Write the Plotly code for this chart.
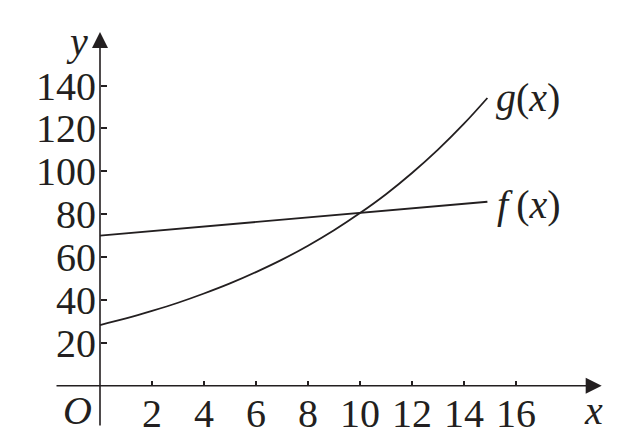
import plotly.graph_objects as go

# ---- data ----
x_g = [0, 1, 2, 3, 4, 5, 6, 7, 8, 9, 10, 11, 12, 13, 14, 14.9]
g_vals = [28.3, 31.4, 34.9, 38.7, 43.0, 47.7, 53.0, 58.8, 65.3, 72.5, 80.5, 89.3, 99.2, 110.1, 122.2, 134.2]
x_f = [0, 14.9]
f_vals = [70, 85.8]
x_ticks = [2, 4, 6, 8, 10, 12, 14, 16]
y_ticks = [20, 40, 60, 80, 100, 120, 140]

W, H = 621, 442
X0PIX, Y0PIX = 100, 385.7      # pixel position of origin
XS, YS = 26.0, 2.144           # pixels per unit


def dx(p):
    return (p - X0PIX) / XS


def dy(p):
    return (Y0PIX - p) / YS


INK = "#231f20"
FONT = "Liberation Serif"
FS = 40

fig = go.Figure()
fig.add_trace(go.Scatter(x=x_g, y=g_vals, mode="lines", line=dict(color=INK, width=1.8),
                         line_shape="spline", hoverinfo="skip"))
fig.add_trace(go.Scatter(x=x_f, y=f_vals, mode="lines", line=dict(color=INK, width=1.8),
                         hoverinfo="skip"))

# axes with arrows
fig.add_annotation(x=dx(601.7), y=0, ax=dx(55), ay=0, xref="x", yref="y", axref="x", ayref="y",
                   showarrow=True, arrowhead=2, arrowsize=2.0, arrowwidth=1.6, arrowcolor=INK,
                   standoff=0, text="")
fig.add_annotation(x=0, y=dy(32), ax=0, ay=dy(427), xref="x", yref="y", axref="x", ayref="y",
                   showarrow=True, arrowhead=2, arrowsize=2.0, arrowwidth=1.6, arrowcolor=INK,
                   standoff=0, text="")

lab = dict(family=FONT, size=FS, color=INK)
fig.add_annotation(x=dx(77), y=dy(410), text="<i>O</i>", showarrow=False, font=lab,
                   xanchor="center", yanchor="middle")
fig.add_annotation(x=dx(593), y=dy(410), text="<i>x</i>", showarrow=False, font=lab,
                   xanchor="center", yanchor="middle")
fig.add_annotation(x=dx(77), y=dy(41), text="<i>y</i>", showarrow=False, font=lab,
                   xanchor="center", yanchor="middle")
fig.add_annotation(x=dx(494), y=dy(97), text="<i>g</i>(<i>x</i>)", showarrow=False, font=lab,
                   xanchor="left", yanchor="middle")
fig.add_annotation(x=dx(495), y=dy(204), text="<i>f</i>\u2009(<i>x</i>)", showarrow=False, font=lab,
                   xanchor="left", yanchor="middle")

fig.update_layout(
    width=W, height=H,
    margin=dict(l=0, r=0, t=0, b=0),
    paper_bgcolor="white", plot_bgcolor="white",
    showlegend=False,
    xaxis=dict(range=[dx(0), dx(W)], domain=[0, 1], anchor="free", position=(H - Y0PIX) / H,
               tickvals=x_ticks, ticktext=[str(v) for v in x_ticks],
               ticks="inside", ticklen=5, tickwidth=1.5, tickcolor=INK,
               showline=False, showgrid=False, zeroline=False,
               tickfont=dict(family=FONT, size=FS, color=INK), automargin=False),
    yaxis=dict(range=[dy(H), dy(0)], domain=[0, 1], anchor="free", position=X0PIX / W,
               tickvals=y_ticks, ticktext=[str(v) for v in y_ticks],
               ticks="inside", ticklen=6, tickwidth=1.5, tickcolor=INK, ticklabelstandoff=4,
               showline=False, showgrid=False, zeroline=False,
               tickfont=dict(family=FONT, size=FS, color=INK), automargin=False),
)

fig.write_html("out.html", config={"displayModeBar": False},
               post_script="document.body.style.margin='0';")
